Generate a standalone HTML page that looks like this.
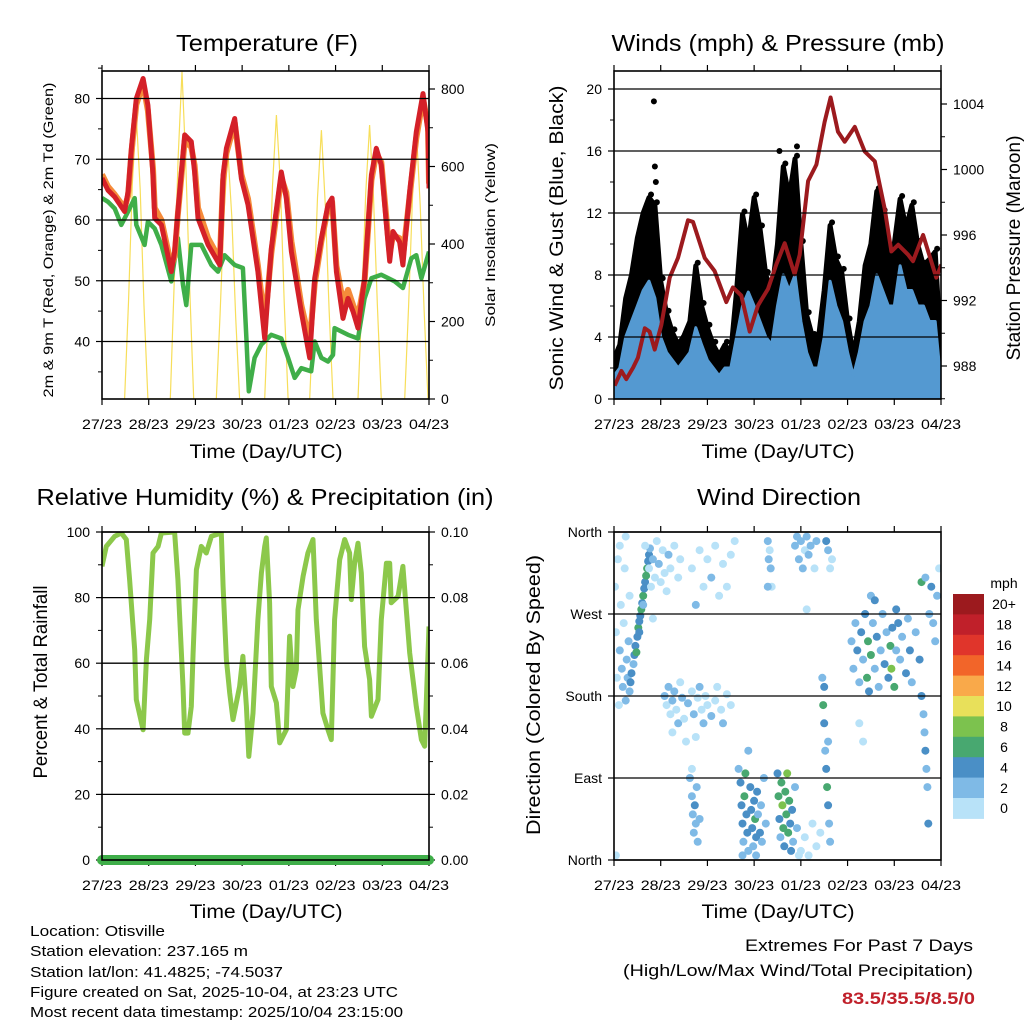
<!DOCTYPE html>
<html><head><meta charset="utf-8"><style>
html,body{margin:0;padding:0;background:#fff;}
svg{display:block;font-family:"Liberation Sans",sans-serif;}
</style></head><body>
<svg id="chart" xmlns="http://www.w3.org/2000/svg" width="1024" height="1024" viewBox="0 0 1024 1024">
<rect x="0" y="0" width="1024" height="1024" fill="#fff"/>
<g id="marks"></g>
<g font-size="23" text-anchor="middle" fill="#000">
<text x="267" y="51" textLength="182" lengthAdjust="spacingAndGlyphs">Temperature (F)</text>
<text x="778" y="51" textLength="333" lengthAdjust="spacingAndGlyphs">Winds (mph) &amp; Pressure (mb)</text>
<text x="265" y="505" textLength="457" lengthAdjust="spacingAndGlyphs">Relative Humidity (%) &amp; Precipitation (in)</text>
<text x="779" y="505" textLength="164" lengthAdjust="spacingAndGlyphs">Wind Direction</text>
</g>
<g font-size="19" text-anchor="middle" fill="#000">
<text x="266" y="458" textLength="153" lengthAdjust="spacingAndGlyphs">Time (Day/UTC)</text>
<text x="778" y="458" textLength="153" lengthAdjust="spacingAndGlyphs">Time (Day/UTC)</text>
<text x="266" y="918" textLength="153" lengthAdjust="spacingAndGlyphs">Time (Day/UTC)</text>
<text x="778" y="918" textLength="153" lengthAdjust="spacingAndGlyphs">Time (Day/UTC)</text>
<text transform="translate(53,240) rotate(-90)" font-size="14" textLength="315" lengthAdjust="spacingAndGlyphs">2m &amp; 9m T (Red, Orange) &amp; 2m Td (Green)</text>
<text transform="translate(495,235) rotate(-90)" font-size="14" textLength="184" lengthAdjust="spacingAndGlyphs">Solar Insolation (Yellow)</text>
<text transform="translate(563,238) rotate(-90)" textLength="305" lengthAdjust="spacingAndGlyphs">Sonic Wind &amp; Gust (Blue, Black)</text>
<text transform="translate(1020,248) rotate(-90)" textLength="225" lengthAdjust="spacingAndGlyphs">Station Pressure (Maroon)</text>
<text transform="translate(47,682) rotate(-90)" textLength="193" lengthAdjust="spacingAndGlyphs">Percent &amp; Total Rainfall</text>
<text transform="translate(540,695) rotate(-90)" textLength="280" lengthAdjust="spacingAndGlyphs">Direction (Colored By Speed)</text>
</g>
<g font-size="15" fill="#000">
<text x="30" y="936" textLength="135" lengthAdjust="spacingAndGlyphs">Location: Otisville</text>
<text x="30" y="956" textLength="218" lengthAdjust="spacingAndGlyphs">Station elevation: 237.165 m</text>
<text x="30" y="977" textLength="253" lengthAdjust="spacingAndGlyphs">Station lat/lon: 41.4825; -74.5037</text>
<text x="30" y="997" textLength="368" lengthAdjust="spacingAndGlyphs">Figure created on Sat, 2025-10-04, at 23:23 UTC</text>
<text x="30" y="1017" textLength="373" lengthAdjust="spacingAndGlyphs">Most recent data timestamp: 2025/10/04 23:15:00</text>
</g>
<g font-size="17" fill="#000" text-anchor="end">
<text x="973" y="951" textLength="228" lengthAdjust="spacingAndGlyphs">Extremes For Past 7 Days</text>
<text x="973" y="976" textLength="350" lengthAdjust="spacingAndGlyphs">(High/Low/Max Wind/Total Precipitation)</text>
<text x="975" y="1004" fill="#c0202a" font-weight="bold" textLength="133" lengthAdjust="spacingAndGlyphs">83.5/35.5/8.5/0</text>
</g>
</svg>
<script>
// ---------------- DATA ----------------
const dayLabels=["27/23","28/23","29/23","30/23","01/23","02/23","03/23","04/23"];
const tempTicks=[40,50,60,70,80];
const solarTicks=[0,200,400,600,800];
const windTicks=[0,4,8,12,16,20];
const pressTicks=[988,992,996,1000,1004];
const rhTicks=[0,20,40,60,80,100];
const precipTickLabels=["0.00","0.02","0.04","0.06","0.08","0.10"];
const dirTicks=[0,90,180,270,360];
const dirLabels=["North","East","South","West","North"];
const speedBins=["0","2","4","6","8","10","12","14","16","18","20+"];
const speedColors=["#b8e2f8","#7fbae6","#4a8fc6","#48a870","#7cc24e","#e8e05a","#f9a94a","#f26529","#e0352b","#c0202a","#9c1a1e"];

const tempT=[0,3.1,6.5,11.6,13.4,15.1,17.6,21.1,23.6,26.2,27.1,30.5,35.6,37.3,39,42.5,45.9,47.6,49.3,54.5,60.5,62.2,63.9,68.2,71.6,75,80.1,83.6,87,92.1,94.7,97.3,102.4,106.7,109.3,112.7,116.1,118.2,120.4,123.8,126.4,129,131.5,134.9,138.4,140.9,143.5,146.9,147.8,149.5,152.9,154.6,158.1,161.5,164.9,167.5,168];
const tempRed=[66.9,64.9,63.8,61.4,64.7,71.8,80,83.3,78.9,67.4,60.3,59.2,51.5,54.8,61.4,74,72.9,67.9,60.3,55.9,52.6,67.4,71.8,76.7,66.8,62.5,51.5,40.5,55.3,67.9,63.6,54.8,44.9,37.3,50.4,57,62.5,63.6,51.5,43.8,47.1,44.9,42.2,50.4,67.4,71.8,69,56.4,53.2,58.1,56.4,52.6,64.7,74.5,80.8,74.5,65.2];
const tempOrange=[67.5,65.5,64.2,62,64,71,79,82.5,78,68.5,62,60,52.5,54,61,73,72,69,62,57,53.5,66.5,71,76,67.5,63.5,52.5,43,54.5,67,64.5,56.5,46,40,49.5,56.5,62,63,52.5,46.5,48.5,46,44,50,66.5,71,69.5,57.5,54.5,57.5,57,54,64,73.5,80,75.5,66];
const dewT=[0,3.1,6.5,9.9,13.4,16.8,17.6,21.9,23.6,27.1,30.5,35.6,39,41.6,43.3,45.9,51,56.2,59.6,63,68.2,72.4,74.2,75.4,78.4,81.9,87,92.1,95.6,99,102.4,107.5,109.3,112.7,116.1,118.7,119.5,126.4,131.5,134.9,138.4,143.5,150.4,154.6,158.9,161.5,164.1,168];
const dewVal=[63.6,63,61.9,59.2,61.4,63.6,59.2,55.9,59.7,58.6,55.9,49.9,57,49.3,46,55.9,55.9,52.6,51.5,54.2,52.6,52.1,40.5,31.8,37.3,39.5,41.1,40.5,37.3,34,35.6,35.1,40,37.3,36.7,37.8,42.2,41.1,40.5,47.1,50.4,51,49.9,48.8,53.7,54.2,50.4,54.8];
const solarT=[11.6,13.6,15.6,17.6,19.6,21.6,23.6, 35.1,37.1,39.1,41.1,43.1,45.1,47.1, 58.7,60.7,62.7,64.7,66.7,68.7,70.7, 83.6,85.6,87.6,89.6,91.6,93.6,95.6, 106.7,108.7,110.7,112.7,114.7,116.7,118.7, 131.5,133.5,135.5,137.5,139.5,141.5,143.5, 155.5,157.5,159.5,161.5,163.5,165.5,167.5];
const solarV=[0,250,560,733,540,240,0, 0,300,620,845,600,280,0, 0,220,480,638,470,210,0, 0,260,550,733,560,250,0, 0,240,520,694,500,230,0, 0,250,530,707,520,240,0, 0,240,520,698,500,230,0];

const windT=[0,3,6,9,12,15,18,21,24,27,30,33,36,39,42,45,48,51,54,57,60,63,66,69,72,75,78,81,84,87,90,93,96,99,102,105,108,111,114,117,120,123,126,129,132,135,138,141,144,147,150,153,156,159,162,165,168];
const gustHi=[2.6,3.5,6.5,8,10.4,12,13,12.5,7.6,5.5,4.3,3.5,4.1,5,8.6,6,4.6,3.5,2.8,3.5,3,7,11.9,10,13,11,8,6.9,10,15,13,15.5,10,5.4,4,3.9,7,11.2,9,8.2,5,2.8,5,8.6,10,13.4,12,9.5,10,12.9,11,12.5,10,8.6,9,9.5,3];
const gustLo=[0.5,0.5,1,2,3,4,5,4,2,1,0.5,0,0.5,1,2,1,0.5,0,0,0,0.5,2,3,4,5,4,2,1,3,4,5,5,3,1,0.5,0,1,3,3,2,1,0,1,3,4,5,5,4,4,5,4,4,3,3,3,3,0.5];
const windHi=[1.5,2,4,5,6,7,7.6,6.5,4,3,2.5,2,2.5,3,4.6,3.5,2.5,2,1.5,2,2,4,6,6.9,6,5,4,3.5,6,8,7,8,5,3,2,2,4,7.6,6,5,3,1.5,3,5,6,8,7,6,6,8.6,7,7,6,6,5,5,1];
const gustOutlierT=[20.5,21,21.5,94,85];
const gustOutlierV=[19.2,15,14,16.3,16];
const pressT=[0.3,3.8,6.3,9.8,12.3,15.8,18.3,20.9,24.3,28.6,32.9,38,40.6,46.6,51.7,57.7,61.1,65.4,69.7,74,79.1,83.4,87.7,92.8,95.4,99.7,104,108.2,111.3,115.1,118.5,123.7,128.8,134,139.1,142.5,146,151.1,153.6,158.8,165.6,168.2];
const pressV=[986.8,987.7,987.2,987.9,988.5,990.3,990.1,989,990.5,993.4,994.6,996.9,996.8,994.6,993.8,991.9,992.8,992.3,990.1,991.7,992.7,994.2,995.5,993.6,994.8,999.3,1000.3,1002.9,1004.4,1002.3,1001.7,1002.6,1001.1,1000.5,997.6,995,995.4,994.8,994.4,996,993.4,994.2];

const rhT=[0,2.2,6.5,9.9,12.5,14.2,16.8,17.6,21.1,22.8,24.5,26.2,28.8,30.5,37.3,39,41.6,42.5,44.2,45.9,46.8,48.5,51,53.6,56.2,61.3,62.2,63.9,65.6,67.3,70.7,72.4,74.2,75.4,77.6,80.1,81.9,83.6,84.4,86.1,87,89.6,91.3,94.7,96.4,98.1,99.8,100.7,103.3,105.8,108.4,110.1,113.5,116.1,117.8,119.5,122.1,124.7,127.2,128.1,129.8,131.5,133.2,134.9,137.5,138.4,141.8,143.5,146.1,147.8,148.6,152.1,154.6,158.1,161.5,164.1,165.8,168];
const rhVal=[89.5,95.6,98.7,99.7,97.7,85.5,64.1,48.9,39.7,61.1,73.3,93.6,95.6,99.7,100,85.5,52.9,38.7,38.7,46.8,63.1,88.5,95.6,93.6,98.7,99.7,83.4,61.1,50.9,42.8,52.9,62.1,46.8,31.6,44.8,73.3,87.5,95.6,98.2,78.4,52.9,47.9,35.7,39.7,68.2,52.9,58,76.3,86.5,93.6,97.7,73.3,44.8,39.7,36.7,73.3,91.6,97.7,93.6,79.4,90.5,96.6,87.5,65.1,55,43.8,48.9,73.3,90.5,90.5,78.4,80.4,89.5,63.1,46.8,36.7,34.7,71.2];
const precipT=[0,168];
const precipVal=[0,0];

// [hour, direction deg, speed mph]
const dirPts=[[0.5,300,0],[1,250,1],[1.5,200,1],[2,330,0],[2.5,170,1],[3,230,2],[3.5,280,1],[4,210,3],[4.5,190,3],[5,260,1],[5.5,320,0],[6,175,2],[6.5,220,3],[7,200,3],[7.5,240,2],[8,185,3],[8,290,1],[3,345,0],[6,355,0],[1,5,0],
[8.5,195,4],[9,205,4],[10,215,3],[10.5,225,4],[11,235,5],[12,245,4],[12.5,255,6],[13,262,4],[13.5,268,5],[14,275,7],[14.5,282,4],[15,290,6],[15.5,298,5],[16,305,4],[16.5,312,6],[17,320,7],[17.5,328,5],[18,335,4],[18.5,342,3],[11.5,228,6],[13,250,4],[15,280,3],
[16,345,1],[18,320,1],[19,300,0],[20,330,2],[21,310,1],[22,350,1],[23,325,2],[24,305,1],[25,340,0],[26,315,1],[27,295,0],[28,335,2],[29,320,1],[31,345,0],[33,310,1],[34,330,0],[20,265,0],
[26,180,2],[27,170,1],[28,190,2],[29,160,1],[30,175,3],[31,185,2],[32,165,1],[33,150,2],[34,195,1],[35,178,2],[36,155,1],[38,172,2],[40,185,1],[41,160,2],[43,178,1],[44,190,2],[45,165,1],[46,150,2],[47,180,1],[48,170,1],[50,158,2],[52,175,1],[53,190,0],[55,165,1],[56,150,2],[58,182,1],[60,170,0],[30,140,1],[37,130,0],[42,135,1],
[40,320,1],[42,280,2],[44,340,1],[46,300,0],[48,330,1],[50,310,2],[52,345,0],[54,290,1],[56,325,1],[58,300,0],[60,335,1],[62,350,0],
[39,90,2],[40,70,3],[40.5,50,3],[41,30,2],[41.5,60,4],[42,40,3],[42.5,80,2],[43,20,3],[40,100,1],[44,45,2],
[64,100,2],[65,85,4],[65.5,60,4],[66,40,4],[66.5,20,3],[67,70,6],[67.5,95,6],[68,50,4],[68.5,30,4],[69,10,3],[70,80,4],[70.5,55,5],[71,35,4],[71.5,15,3],[72,65,4],[72.5,45,6],[73,25,4],[73.5,75,4],[74,50,3],[75,30,4],[75.5,60,2],[76,20,2],[77,90,2],[78,40,2],[69,120,2],[73,5,2],[66,5,2],
[79,350,2],[79.5,330,2],[80,340,1],[80.5,320,3],[81,300,1],[79,300,2],
[84,95,4],[84.5,70,6],[85,45,4],[85.5,25,3],[86,85,6],[86.5,60,8],[87,35,6],[87.5,15,4],[88,75,6],[88.5,50,7],[89,95,8],[89.5,30,6],[90,65,6],[90.5,40,4],[91,10,4],[91.5,55,4],[92,20,2],[93,80,2],[94,35,2],[95,5,1],
[93,345,2],[94,355,3],[95,330,2],[96,350,2],[97,320,3],[98,340,1],[99,355,2],[100,335,3],[101,345,2],[103,320,1],[104,350,2],[96,10,1],[98,25,1],[100,5,1],[102,40,1],[104,15,1],[106,30,0],[99,275,1],
[107,200,3],[107.5,170,6],[108,150,4],[108.5,120,3],[109,100,5],[109.5,80,6],[110,60,4],[110.5,40,3],[111,20,3],[108,190,4],[110,130,3],[109,350,4],[110,340,3],[111,320,1],[112,330,1],
[122,240,2],[123,210,3],[124,260,2],[125,230,4],[126,195,3],[127,250,4],[128,220,3],[129,270,4],[130,200,6],[130.5,240,6],[131,185,4],[132,225,7],[133,260,3],[134,210,3],[135,245,4],[136,190,3],[137,230,3],[138,270,2],[139,215,4],[140,250,2],[141,200,4],[142,235,6],[142.5,210,8],[143,255,4],[144,190,6],[145,230,3],[146,260,4],[147,220,3],[148,245,2],[150,205,4],[151,265,2],[152,230,4],[153,195,3],[155,250,2],[157,220,4],[158,180,4],[159,160,3],[159.5,140,3],[160,120,4],[160.5,100,2],[161,80,2],[161.5,40,4],[162,270,3],[163,300,4],[164,260,2],[165,240,3],[166,290,2],[167,320,1],[158,305,6],[160,310,2],[132,290,3],[134,285,4],[145,275,4],[126,150,1],[128,130,1]];

// ---------------- DRAWING ----------------
const NS='http://www.w3.org/2000/svg';
const root=document.getElementById('marks');
function mk(tag,attrs,parent){const e=document.createElementNS(NS,tag);for(const k in attrs)e.setAttribute(k,attrs[k]);(parent||root).appendChild(e);return e;}
const L={x0:102,x1:429}, R={x0:614,x1:941};
const TOP={y0:71,y1:399}, BOT={y0:532,y1:860};
function xs(p,t){return p.x0+t/168*(p.x1-p.x0);}
const yTemp=v=>98.5+(80-v)*6.075;
const ySolar=v=>399-v*0.3875;
const yWind=v=>399-v*15.5;
const yPress=v=>104+(1004-v)*16.375;
const yRH=v=>860-v*3.28;
const yDir=v=>860-v/360*328;
const yPrecip=v=>860-v*3280;

function poly(p,T,V,yf){return T.map((t,i)=>xs(p,t).toFixed(1)+','+yf(V[i]).toFixed(1)).join(' ');}

function gridAndAxes(p,box,name,leftTicks,leftY,leftLabels,rightTicks,rightY,rightLabels,minorL,minorR){
  const g=mk('g',{});
  
  
  leftTicks.forEach(v=>{const y=leftY(v);
    const ln=mk('line',{x1:p.x0,x2:p.x1,y1:y,y2:y,stroke:'#000','stroke-width':1.3},g);
    
    
    mk('line',{x1:p.x0-6,x2:p.x0,y1:y,y2:y,stroke:'#000','stroke-width':1.2},g);});
  leftLabels.forEach((s,i)=>{const tx=mk('text',{x:p.x0-12,y:leftY(leftTicks[i])+5,'font-size':14,'text-anchor':'end'},g);tx.textContent=s;
    
    });
  minorL.forEach(v=>mk('line',{x1:p.x0-4,x2:p.x0,y1:leftY(v),y2:leftY(v),stroke:'#000','stroke-width':1},g));
  rightTicks.forEach((v,i)=>{const y=rightY(v);
    mk('line',{x1:p.x1,x2:p.x1+6,y1:y,y2:y,stroke:'#000','stroke-width':1.2},g);
    if(rightLabels){const tx=mk('text',{x:p.x1+12,y:y+5,'font-size':14},g);tx.textContent=rightLabels[i];
      
      }});
  minorR.forEach(v=>mk('line',{x1:p.x1,x2:p.x1+4,y1:rightY(v),y2:rightY(v),stroke:'#000','stroke-width':1},g));
  dayLabels.forEach((s,i)=>{const x=xs(p,i*24);
    mk('line',{x1:x,x2:x,y1:box.y1,y2:box.y1+6,stroke:'#000','stroke-width':1.2},g);
    mk('line',{x1:x,x2:x,y1:box.y0-6,y2:box.y0,stroke:'#000','stroke-width':1.2},g);
    const tx=mk('text',{x:x,y:box.y1+30,'font-size':14,'text-anchor':'middle',textLength:40,lengthAdjust:'spacingAndGlyphs'},g);tx.textContent=s;
    
    });
  return g;
}
function frame(p,box,name){const f=mk('rect',{x:p.x0,y:box.y0,width:p.x1-p.x0,height:box.y1-box.y0,fill:'none',stroke:'#000','stroke-width':1.6});
  
  }
function clip(id,p,box){const d=mk('clipPath',{id:id});mk('rect',{x:p.x0,y:box.y0,width:p.x1-p.x0,height:box.y1-box.y0},d);}

// Panel 1: temperature
clip('c1',L,TOP);
const g1=mk('g',{'clip-path':'url(#c1)'});


const sol=mk('polyline',{points:poly(L,solarT,solarV,ySolar),fill:'none',stroke:'#f7de5a','stroke-width':1.2},g1);


const dw=mk('polyline',{points:poly(L,dewT,dewVal,yTemp),fill:'none',stroke:'#3fae49','stroke-width':4.5,'stroke-linejoin':'round'},g1);


const og=mk('polyline',{points:poly(L,tempT,tempOrange,yTemp),fill:'none',stroke:'#f58b3a','stroke-width':6,'stroke-linejoin':'round'},g1);


const rd=mk('polyline',{points:poly(L,tempT,tempRed,yTemp),fill:'none',stroke:'#d42028','stroke-width':5,'stroke-linejoin':'round'},g1);


gridAndAxes(L,TOP,'temperature',tempTicks,yTemp,tempTicks.map(String),solarTicks,ySolar,solarTicks.map(String),[35,45,55,65,75,85],[100,300,500,700]);
frame(L,TOP,'temperature');

// Panel 2: winds & pressure
clip('c2',R,TOP);
const g2=mk('g',{'clip-path':'url(#c2)'});


const gustPts=windT.map((t,i)=>xs(R,t).toFixed(1)+','+yWind(gustHi[i]).toFixed(1)).concat(windT.slice().reverse().map((t,j)=>{const i=windT.length-1-j;return xs(R,t).toFixed(1)+','+yWind(gustLo[i]).toFixed(1);})).join(' ');
const ga=mk('polygon',{points:gustPts,fill:'#000',stroke:'#000','stroke-width':5,'stroke-linejoin':'round'},g2);


windT.forEach((t,i)=>{const c=mk('circle',{cx:xs(R,t)+2,cy:yWind(gustHi[i])-3,r:3,fill:'#000'},g2);
  
  
  const c2=mk('circle',{cx:xs(R,t)-2,cy:yWind(gustLo[i])+2,r:3,fill:'#000'},g2);
  
  });
gustOutlierT.forEach((t,i)=>{const c=mk('circle',{cx:xs(R,t),cy:yWind(gustOutlierV[i]),r:3,fill:'#000'},g2);
  
  });
const windPts=windT.map((t,i)=>xs(R,t).toFixed(1)+','+yWind(windHi[i]).toFixed(1)).concat([xs(R,168)+','+yWind(0),xs(R,0)+','+yWind(0)]).join(' ');
const wa=mk('polygon',{points:windPts,fill:'#5499d1',stroke:'#5499d1','stroke-width':3,'stroke-linejoin':'round'},g2);


const pr=mk('polyline',{points:poly(R,pressT,pressV,yPress),fill:'none',stroke:'#9c1a1e','stroke-width':4,'stroke-linejoin':'round'},g2);


gridAndAxes(R,TOP,'wind',windTicks,yWind,windTicks.map(String),pressTicks,yPress,pressTicks.map(String),[2,6,10,14,18],[986,990,994,998,1002]);
frame(R,TOP,'wind');

// Panel 3: RH & precip
clip('c3',L,BOT);
const g3=mk('g',{'clip-path':'url(#c3)'});


const rh=mk('polyline',{points:poly(L,rhT,rhVal,yRH),fill:'none',stroke:'#8cc84b','stroke-width':5,'stroke-linejoin':'round'},g3);


gridAndAxes(L,BOT,'humidity',rhTicks,yRH,rhTicks.map(String),[0,0.02,0.04,0.06,0.08,0.1],yPrecip,precipTickLabels,[10,30,50,70,90],[0.01,0.03,0.05,0.07,0.09]);
const pc=mk('polyline',{points:poly(L,precipT,precipVal,yPrecip),fill:'none',stroke:'#3fae49','stroke-width':10,'stroke-linecap':'round'});


frame(L,BOT,'humidity');

// Panel 4: wind direction
clip('c4',R,BOT);
const g4=mk('g',{'clip-path':'url(#c4)'});


dirPts.forEach(d=>{const c=mk('circle',{cx:xs(R,d[0]).toFixed(1),cy:yDir(d[1]).toFixed(1),r:4,fill:speedColors[Math.min(10,Math.floor(d[2]/2))]},g4);
  
  });
gridAndAxes(R,BOT,'direction',dirTicks,yDir,dirLabels,[],yDir,null,[],[]);
frame(R,BOT,'direction');

// Colorbar
const cb=mk('g',{});


const cbTop=594, cbH=20.4;
const mt=mk('text',{x:1004,y:cbTop-6,'font-size':14,'text-anchor':'middle'},cb);mt.textContent='mph';


speedBins.slice().reverse().forEach((s,i)=>{const k=speedBins.length-1-i;
  const r=mk('rect',{x:953,y:cbTop+i*cbH,width:31,height:cbH+0.5,fill:speedColors[k]},cb);
  
  
  const tx=mk('text',{x:1004,y:cbTop+i*cbH+cbH/2+5,'font-size':14,'text-anchor':'middle'},cb);tx.textContent=s;
  
  });
</script>
</body></html>
